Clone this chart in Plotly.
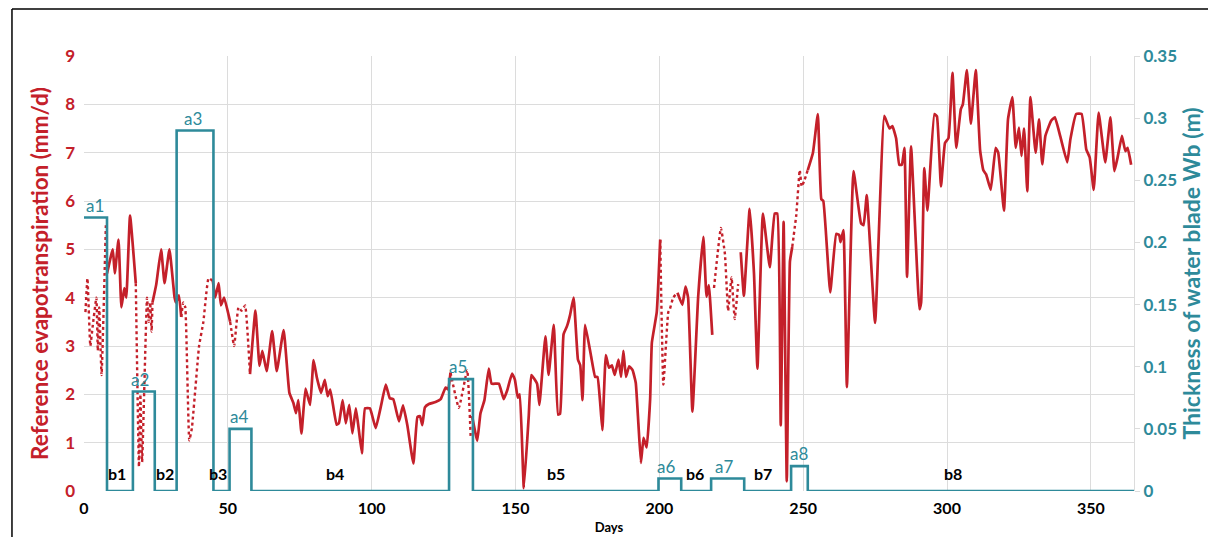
import plotly.graph_objects as go

# ---------------- data ----------------
# Reference evapotranspiration, solid parts (None = gap)
et_solid_days = [
    8, 10, 10.7, 12, 13, 14, 14.7, 16, 18, None,
    23.8, 25.1, 26.8, 28, 29.7, 31.5, 32, 33, 33.8, None,
    44.8, 45.6, 46.8, 47.6, 48.7, 50.8, None,
    57.7, 59.6, 61, 62, 63.5, 65.4, 67, 69.4, 71.4, 72.8, 73.7, 74.5, 75.6, 77, 78.6, 79.8,
    80.9, 82.4, 83.7, 84.7, 85.6, 87.8, 88.6, 89.9, 91, 92.2, 93.3, 94.5, 95.4, 96.6, 97.7,
    99.4, 101.4, 103.2, 104.9, 106.3, 107.5, 109.5, 110.9, 112.4, 114.5, 115.9, 116.8, 117.6,
    118.5, 119.9, 122.2, 124, 125.7, 126.6, 127.4, None,
    134.9, 136.7, 137.8, 139.2, 140.7, 141.7, 144.2, 145.9, 147.1, 148.8, 149.8, 150.8, 151.5,
    152.9, 154.6, 155.5, 157.5, 158.3, 160.4, 161.5, 163.3, 164.8, 165.5, 166.7, 167.9, 169,
    170.2, 171.7, 172.5, 173.3, 174.2, 176.3, 177.7, 178.5, 179.4, 180.2, 181.4, 182.5, 183.5,
    184.5, 185.8, 186.7, 187.5, 188.4, 189.5, 190.7, 191.8, 192.7, 193.6, 194.5, 195.6, 196.8,
    197.4, 199.1, 200.3, None,
    206.3, 208, 209.1, 210, 211.5, 213.5, 215.3, 216.4, 217.2, 218.4, None,
    228.3, 229.4, 231.4, 232.9, 234.1, 236, 238.4, 240.1, 241, 242.2, 243.2, 244.3, 245.4, 246.2, None,
    251.6, 253.4, 255.1, 256.3, 257, 259.4, 261.5, 262.5, 263, 264, 265.2, 267.5, 270.1, 271,
    272.1, 275, 278.2, 280, 281, 282.3, 283.4, 284.3, 285.2, 286.1, 287.5, 290.4, 291, 292.1,
    293.2, 295.6, 296.5, 297.9, 299.3, 300.5, 301.9, 303.2, 304.8, 305.5, 306.9, 308.3, 310,
    311.5, 312.6, 313.6, 315.2, 316.9, 317.8, 319.8, 321.2, 322.7, 323.9, 325, 325.9, 326.8,
    327.9, 329, 330.8, 332, 333.1, 334.2, 336.2, 337.5, 339.4, 341.8, 342.9, 344.9, 346.8,
    348.4, 349.6, 351, 352.7, 355, 356.8, 358.2, 359.3, 360.8, 362, 362.8, 364,
]
et_solid_vals = [
    4.5, 5.0, 4.5, 5.2, 3.8, 4.2, 4.0, 5.7, 4.3, None,
    3.9, 4.27, 5.0, 4.3, 5.0, 4.0, 3.9, 4.05, 3.6, None,
    4.35, 4.0, 4.3, 3.84, 4.0, 3.5, None,
    2.42, 3.73, 2.59, 2.9, 2.48, 3.31, 2.48, 3.33, 2.03, 1.82, 1.61, 1.88, 1.19, 2.12, 1.78, 2.71,
    2.36, 2.03, 2.3, 1.96, 2.1, 1.37, 1.4, 1.88, 1.4, 1.78, 1.19, 1.71, 1.33, 0.78, 1.71,
    1.71, 1.3, 1.75, 2.2, 1.92, 1.9, 1.44, 1.77, 1.36, 0.57, 1.53, 1.55, 1.36,
    1.73, 1.8, 1.84, 1.9, 2.14, 2.1, 2.45, None,
    1.55, 1.04, 1.6, 1.88, 2.53, 2.22, 2.22, 1.9, 2.08, 2.43, 2.3, 1.93, 2.0,
    0.06, 1.55, 2.4, 2.22, 1.78, 3.2, 2.4, 3.44, 1.58, 1.6, 3.24, 3.41, 3.65,
    4.0, 2.72, 2.6, 1.88, 3.44, 2.78, 2.36, 2.36, 1.85, 1.26, 2.81, 2.55, 2.6,
    2.4, 2.72, 2.36, 2.9, 2.36, 2.58, 2.5, 2.24, 1.41, 0.58, 1.1, 0.9, 1.9,
    3.07, 3.7, 5.2, None,
    4.1, 3.85, 4.23, 4.0, 1.64, 4.02, 5.26, 4.02, 4.26, 3.23, None,
    4.94, 4.04, 5.84, 4.5, 2.53, 5.74, 4.63, 5.74, 5.74, 1.36, 5.57, 0.2, 4.75, 5.05, None,
    6.64, 7.0, 7.8, 6.04, 6.0, 4.11, 5.32, 5.3, 5.15, 5.4, 2.15, 6.62, 5.54, 5.5,
    6.12, 3.48, 7.76, 7.5, 7.55, 7.3, 6.75, 6.75, 7.1, 4.43, 7.13, 3.76, 3.9, 6.68,
    5.8, 7.8, 7.75, 6.3, 7.2, 7.3, 8.65, 7.1, 7.9, 8.0, 8.71, 7.6, 8.71,
    7.05, 6.64, 6.55, 6.23, 7.1, 7.0, 5.8, 7.69, 8.15, 7.1, 7.52, 6.93, 7.5,
    6.2, 8.15, 7.0, 7.69, 6.76, 7.35, 7.66, 7.73, 7.33, 6.8, 7.28, 7.8, 7.8,
    7.07, 6.9, 6.23, 7.83, 6.8, 7.73, 6.62, 6.9, 7.35, 7.03, 7.1, 6.75,
]

# Reference evapotranspiration, dotted parts (flooded periods)
et_dot_days = [
    0.5, 1.2, 2.2, 3, 4.3, 4.8, 5.3, 6.1, 7.6, None,
    18, 19.1, 19.6, 20.2, 21.9, 22.5, 23, 23.5, 23.8, None,
    33.8, 34.5, 35.2, 36.6, 37.5, 40, 41.5, 43.3, 44.8, None,
    50.8, 52.2, 53.7, 54.8, 56, 57.7, None,
    127.4, 130.3, 133.2, 134.4, None,
    200.3, 201.4, 203.1, 203.6, 204.8, 206.3, None,
    219, 221.4, 222.8, 223.9, 225.1, 226.2, 227.4, None,
    246.2, 247.6, 248.8, 249.5, 250.5, 251.6,
]
et_dot_vals = [
    3.7, 4.4, 3.0, 3.4, 4.0, 2.9, 3.8, 2.4, 5.5, None,
    4.3, 0.5, 2.0, 0.6, 4.0, 3.5, 3.9, 3.3, 3.9, None,
    3.6, 3.9, 3.8, 1.05, 1.3, 3.0, 3.5, 4.4, 4.35, None,
    3.5, 3.0, 3.8, 3.73, 3.84, 2.42, None,
    2.45, 1.72, 2.5, 1.14, None,
    5.2, 2.2, 3.7, 3.75, 4.0, 4.1, None,
    4.2, 5.44, 4.9, 3.73, 4.42, 3.56, 4.28, None,
    5.05, 5.71, 6.64, 6.3, 6.44, 6.64,
]

# Thickness of water blade Wb (m): step changes
wb_days = [0, 8, 17, 24.6, 32.2, 45, 50.6, 58.2, 126.9, 135.2, 199.7, 207.6, 218, 229.5, 245.8, 251.6, 365]
wb_vals = [0.22, 0, 0.08, 0, 0.29, 0, 0.05, 0, 0.09, 0, 0.01, 0, 0.01, 0, 0.02, 0, 0]

# Period labels
a_labels = ["a1", "a2", "a3", "a4", "a5", "a6", "a7", "a8"]
a_days = [3.8, 19.4, 37.8, 54, 130, 202.4, 222.5, 248.5]
a_levels = [0.22, 0.08, 0.29, 0.05, 0.09, 0.01, 0.01, 0.02]
b_labels = ["b1", "b2", "b3", "b4", "b5", "b6", "b7", "b8"]
b_days = [11.6, 28, 46.6, 87.3, 164, 212.5, 236, 302]

x_ticks = [0, 50, 100, 150, 200, 250, 300, 350]
y2_ticks = [0, 0.05, 0.1, 0.15, 0.2, 0.25, 0.3, 0.35]
y2_ticktext = ["0", "0.05", "0.1", "0.15", "0.2", "0.25", "0.3", "0.35"]

# ---------------- styles ----------------
RED = "#C4202A"
TEAL = "#2E8A9A"
FONT = "Lato"
GRID = "#dcdcdc"

fig = go.Figure()

fig.add_trace(go.Scatter(
    x=wb_days, y=wb_vals, yaxis="y2", mode="lines",
    line=dict(color=TEAL, width=2.6, shape="hv"), showlegend=False, hoverinfo="skip"))

fig.add_trace(go.Scatter(
    x=et_dot_days, y=et_dot_vals, mode="lines",
    line=dict(color=RED, width=2.4, dash="dot", shape="spline", smoothing=0.35),
    connectgaps=False, showlegend=False))

fig.add_trace(go.Scatter(
    x=et_solid_days, y=et_solid_vals, mode="lines",
    line=dict(color=RED, width=2.7, shape="spline", smoothing=0.35),
    connectgaps=False, showlegend=False))

annotations = []
for lab, d, lv in zip(a_labels, a_days, a_levels):
    annotations.append(dict(x=d, y=lv, xref="x", yref="y2", text=lab, showarrow=False,
                            yanchor="bottom", yshift=0,
                            font=dict(family=FONT, size=17, color=TEAL)))
for lab, d in zip(b_labels, b_days):
    annotations.append(dict(x=d, y=0.36, xref="x", yref="y", text=lab, showarrow=False,
                            yanchor="middle",
                            font=dict(family=FONT, size=16, color="black", weight="bold")))

# The page body adds an 8px offset, so the figure is sized to fit the window.
fig.update_layout(
    width=1200, height=529,
    margin=dict(l=76, r=74, t=48, b=46),
    paper_bgcolor="white", plot_bgcolor="white",
    font=dict(family=FONT),
    showlegend=False,
    xaxis=dict(range=[0, 365], tickvals=x_ticks, showgrid=True, gridcolor=GRID, gridwidth=1,
               zeroline=False, showline=False, ticks="", ticklabelstandoff=6, automargin=False,
               tickfont=dict(family=FONT, size=16, color="black", weight="bold"),
               title=dict(text="Days", standoff=6,
                          font=dict(family=FONT, size=13, color="black", weight="bold"))),
    yaxis=dict(range=[0, 9], dtick=1, showgrid=True, gridcolor=GRID, gridwidth=1,
               zeroline=False, showline=False, ticks="", ticklabelstandoff=8, automargin=False,
               tickfont=dict(family=FONT, size=17, color=RED, weight="bold"),
               title=dict(text="Reference evapotranspiration (mm/d)", standoff=10,
                          font=dict(family=FONT, size=22.5, color=RED, weight="bold"))),
    yaxis2=dict(range=[0, 0.35], overlaying="y", side="right", tickvals=y2_ticks,
                ticktext=y2_ticktext, showgrid=False, zeroline=False, automargin=False,
                showline=True, linecolor=GRID, linewidth=1,
                ticks="outside", ticklen=5, tickcolor=GRID,
                tickfont=dict(family=FONT, size=17, color=TEAL, weight="bold"),
                title=dict(text="Thickness of water blade Wb (m)", standoff=6,
                           font=dict(family=FONT, size=23, color=TEAL, weight="bold"))),
    annotations=annotations,
    shapes=[
        dict(type="line", xref="paper", yref="paper", x0=-0.0686, x1=1.2, y0=1.108, y1=1.108,
             line=dict(color="black", width=1.5)),
        dict(type="line", xref="paper", yref="paper", x0=-0.0686, x1=-0.0686, y0=-0.2, y1=1.108,
             line=dict(color="black", width=1.5)),
    ],
)

fig.write_html("out.html")
